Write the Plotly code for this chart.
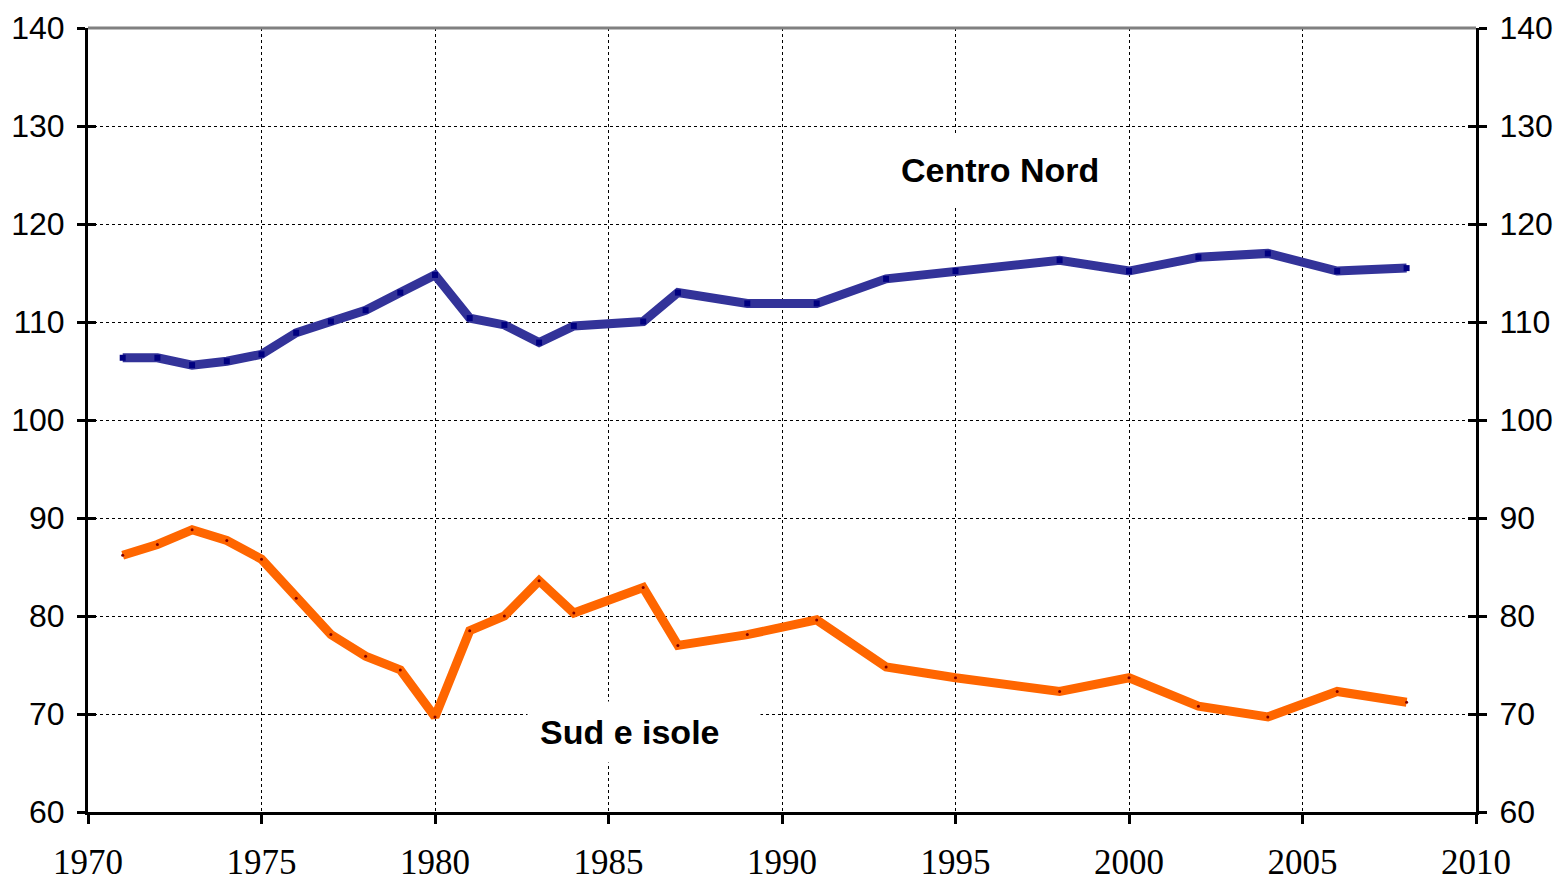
import plotly.graph_objects as go

years_cn = [1971, 1972, 1973, 1974, 1975, 1976, 1977, 1978, 1979, 1980, 1981, 1982, 1983, 1984,
            1986, 1987, 1989, 1991, 1993, 1995, 1998, 2000, 2002, 2004, 2006, 2008]
centro_nord = [106.35, 106.35, 105.6, 106.0, 106.7, 108.9, 110.05, 111.2, 113.0, 114.8, 110.4, 109.7,
               107.9, 109.6, 110.05, 113.0, 111.9, 111.9, 114.4, 115.2, 116.3, 115.2, 116.6, 117.0,
               115.2, 115.5]
sud_isole = [86.2, 87.3, 88.8, 87.7, 85.8, 81.8, 78.1, 75.9, 74.5, 69.7, 78.5, 80.0, 83.6, 80.3,
             82.9, 77.0, 78.1, 79.6, 74.8, 73.7, 72.3, 73.7, 70.8, 69.7, 72.3, 71.2]

x_ticks = [1970, 1975, 1980, 1985, 1990, 1995, 2000, 2005, 2010]
y_ticks = [60, 70, 80, 90, 100, 110, 120, 130, 140]

label_cn = "Centro Nord"
label_sud = "Sud e isole"

SANS = "Liberation Sans, Arial, sans-serif"
SERIF = "Liberation Serif, Times New Roman, serif"

fig = go.Figure()
fig.add_trace(go.Scatter(
    x=years_cn, y=centro_nord, mode="lines+markers", name=label_cn,
    line=dict(color="#333399", width=9),
    marker=dict(symbol="square", size=6, color="#000080"),
))
fig.add_trace(go.Scatter(
    x=years_cn, y=sud_isole, mode="lines+markers", name=label_sud,
    line=dict(color="#FF6600", width=9),
    marker=dict(symbol="circle", size=3, color="#800000"),
))
# invisible helper traces so the extra tick axes are drawn
for ax in ["y2", "y3", "y4"]:
    fig.add_trace(go.Scatter(x=[1970], y=[60], yaxis=ax, mode="markers",
                             marker=dict(opacity=0), showlegend=False, hoverinfo="skip"))

grid = dict(showgrid=True, gridcolor="#000000", gridwidth=1, griddash="3px,3px")
tick_only = dict(range=[60, 140], tickvals=y_ticks, overlaying="y", ticks="inside", ticklen=8,
                 tickwidth=3, tickcolor="black", showticklabels=False, showline=False,
                 showgrid=False, zeroline=False, automargin=False)

# page body has an 8px margin: figure is sized so the plot area lands at x 88-1476, y 28-812
fig.update_layout(
    width=1554, height=876,
    margin=dict(l=80, r=86, t=20, b=72, autoexpand=False),
    paper_bgcolor="white", plot_bgcolor="white",
    showlegend=False,
    xaxis=dict(range=[1970, 2010], tickvals=x_ticks, ticktext=[str(v) for v in x_ticks],
               ticks="outside", ticklen=9, tickwidth=3, tickcolor="black",
               showline=True, linecolor="black", linewidth=3, zeroline=False,
               tickfont=dict(family=SERIF, size=35, color="black"),
               ticklabelstandoff=8, automargin=False, **grid),
    yaxis=dict(range=[60, 140], tickvals=y_ticks, ticks="outside", ticklen=8, tickwidth=3,
               tickcolor="black", showline=True, linecolor="black", linewidth=3, zeroline=False,
               tickfont=dict(family=SANS, size=32, color="black"),
               ticklabelstandoff=6, automargin=False, **grid),
    yaxis2=dict(range=[60, 140], tickvals=y_ticks, overlaying="y", side="right",
                ticks="outside", ticklen=8, tickwidth=3, tickcolor="black",
                showline=True, linecolor="black", linewidth=3, zeroline=False, showgrid=False,
                tickfont=dict(family=SANS, size=32, color="black"),
                ticklabelstandoff=6, automargin=False),
    yaxis3=dict(side="left", **tick_only),
    yaxis4=dict(side="right", **tick_only),
)

# top border (gray)
fig.add_shape(type="line", xref="paper", yref="paper", x0=0, x1=1, y0=1, y1=1,
              line=dict(color="#808080", width=3), layer="above")

# white label boxes hiding the grid, then the label texts
fig.add_annotation(x=1996.28, y=125.5, xref="x", yref="y", text=" ",
                   showarrow=False, bgcolor="white", width=240, height=72, borderpad=0)
fig.add_annotation(x=1986.02, y=68.16, xref="x", yref="y", text=" ",
                   showarrow=False, bgcolor="white", width=232, height=60, borderpad=0)
fig.add_annotation(x=1996.28, y=125.5, xref="x", yref="y", text=f"<b>{label_cn}</b>",
                   showarrow=False, font=dict(family=SANS, size=34, color="black"))
fig.add_annotation(x=1985.62, y=68.16, xref="x", yref="y", text=f"<b>{label_sud}</b>",
                   showarrow=False, font=dict(family=SANS, size=34, color="black"))

fig.write_html("out.html")
